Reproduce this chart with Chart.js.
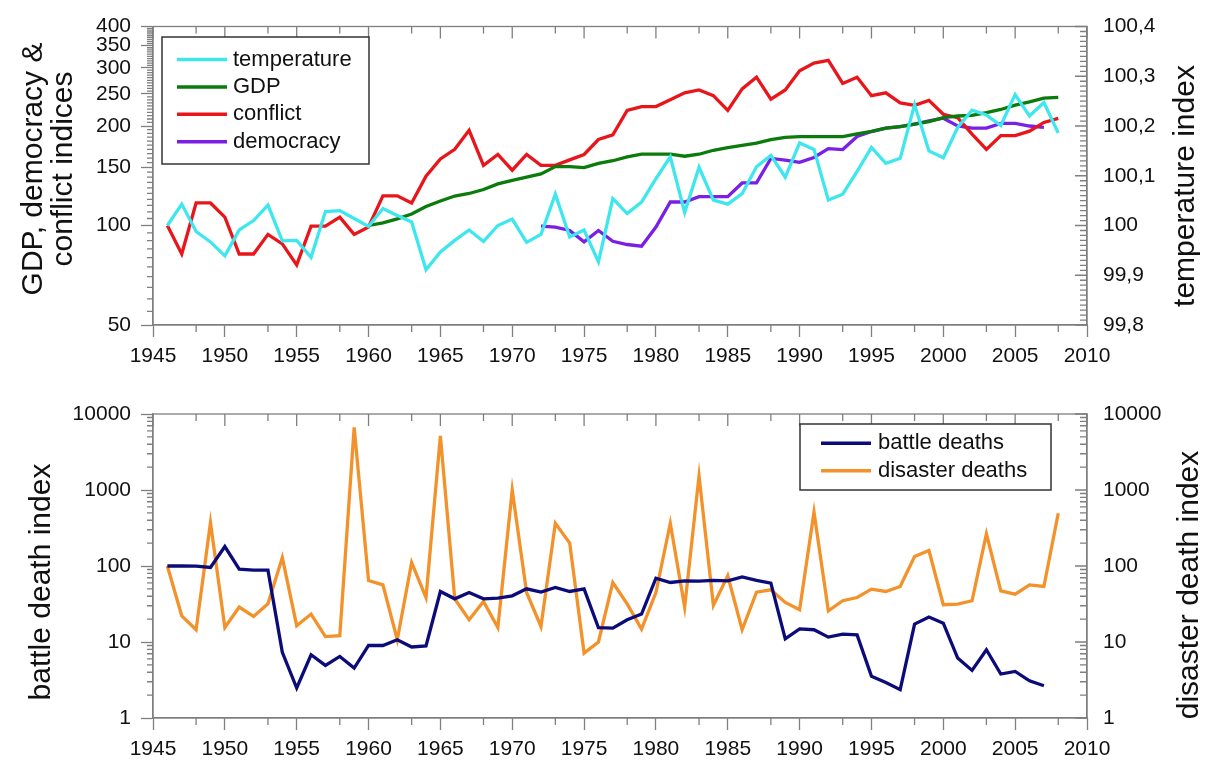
<!DOCTYPE html>
<html>
<head>
<meta charset="utf-8">
<script src="https://cdn.jsdelivr.net/npm/chart.js@4.4.1/dist/chart.umd.min.js"></script>
<style>
html,body{margin:0;padding:0;background:#fff;}
.w{position:absolute;left:0;width:1212px;height:381px;}
</style>
</head>
<body>
<div class="w" style="top:0"><canvas id="c1" width="1212" height="381"></canvas></div>
<div class="w" style="top:381px"><canvas id="c2" width="1212" height="381"></canvas></div>
<script>
// ---------- data ----------
const years = [1946,1947,1948,1949,1950,1951,1952,1953,1954,1955,1956,1957,1958,1959,1960,1961,1962,1963,1964,1965,1966,1967,1968,1969,1970,1971,1972,1973,1974,1975,1976,1977,1978,1979,1980,1981,1982,1983,1984,1985,1986,1987,1988,1989,1990,1991,1992,1993,1994,1995,1996,1997,1998,1999,2000,2001,2002,2003,2004,2005,2006,2007,2008];

const temperature = [100.000,100.043,99.988,99.967,99.939,99.991,100.010,100.041,99.969,99.970,
  99.936,100.028,100.030,100.014,99.998,100.034,100.020,100.007,99.911,99.947,
  99.970,99.991,99.968,100.000,100.013,99.966,99.982,100.063,99.977,99.991,
  99.927,100.054,100.024,100.047,100.094,100.138,100.026,100.117,100.051,100.043,
  100.064,100.118,100.141,100.097,100.166,100.153,100.051,100.063,100.109,100.157,
  100.125,100.135,100.243,100.150,100.136,100.197,100.232,100.222,100.201,100.263,
  100.220,100.247,100.186];

const gdp = [null,null,null,null,null,null,null,null,null,null,
  null,null,null,null,100,101.8,104.7,108.3,114.1,118.6,
  122.8,125,128.5,133.6,137,140,143.3,150.7,150.7,149.7,
  154.2,157,161.3,164.3,164.3,164.3,162,164.3,168.9,172,
  174.7,177.5,182,184.9,185.8,185.8,185.8,185.8,189.2,192.7,
  197.2,199,202.6,206.3,212,214.4,215.4,219.4,224.4,231.2,
  236.6,243,244];

const conflict = [100,82,117,117,106,82,82,94,88,76,
  99.5,99.5,106,94,99,123,123,117,141,159,
  170,194,152,164,147,164,152,152,158,164,
  182,188,223,229,229,240,252,257,247,223,
  259,281,241,257,294,310,316,269,281,247,
  252,235,231,239,217,212,189,170,187,187,
  193,205,211];

const democracy = [null,null,null,null,null,null,null,null,null,null,
  null,null,null,null,null,null,null,null,null,null,
  null,null,null,null,null,null,99.5,98.9,96.6,89.2,
  96.6,89.6,87.6,86.6,98.9,117.8,117.8,122.2,122.2,122.2,
  134.5,134.5,159.5,157.7,155.2,160.6,170.8,169.7,185.9,192.4,
  197.2,199,202.6,207.3,211.1,200.2,197,197,203.6,203.6,
  200,198,null];

const battleDeaths = [100,100.5,99.5,95.6,180,91,88,88,7.3,2.48,
  6.8,4.92,6.46,4.54,9.0,9.0,10.7,8.6,8.9,46.2,
  37,44.8,37,37.9,40.5,50.1,45.3,52.2,46.2,50,
  15.4,15.2,19.6,23.3,69.2,60.7,63.8,63.2,64.5,63.8,
  72,64.5,59.5,11.0,14.9,14.5,11.6,12.7,12.4,3.53,
  2.94,2.36,17.2,21.3,17.7,6.15,4.23,7.9,3.79,4.1,
  3.09,2.66,null];

const disasterDeaths = [100,22.1,14.5,373,15.5,28.8,21.7,31.8,129,16.4,
  23.3,11.8,12.1,6680,64.5,56.5,10.7,111,38.5,5140,
  37,19.6,34.2,15.5,1000,44.8,16,365,200,7.15,
  10,60.7,31.8,14.8,44.8,365,28.8,1531,30.3,74.3,
  14.5,45.3,48.6,33.1,26.5,510,25.7,34.9,38.5,49.6,
  46.2,53.8,133,160,30.9,31.5,34.9,265,47.1,42.6,
  56.5,53.8,495];

// tick labels
const xTickYears = [1945,1950,1955,1960,1965,1970,1975,1980,1985,1990,1995,2000,2005,2010];
const xMinorYears = [1948,1953,1958,1963,1968,1973,1978,1983,1988,1993,1998,2003,2008];
const indexTicks = [50,100,150,200,250,300,350,400];
const temperatureTicks = [99.8,99.9,100,100.1,100.2,100.3,100.4];
const deathTicks = [1,10,100,1000,10000];

// minor tick values (axis decoration)
const indexMinor = [];
for (let v = 55; v < 400; v += 5) if (v % 50 !== 0) indexMinor.push(v);
const temperatureMinor = [];
for (let i = 1; i < 60; i++) if (i % 10 !== 0) temperatureMinor.push(Math.round((99.8 + i * 0.01) * 1000) / 1000);
const deathMinor = [];
for (let d = 1; d < 10000; d *= 10) for (let m = 2; m <= 9; m++) deathMinor.push(m * d);

// ---------- helpers ----------
const pts = arr => years.map((yr, i) => ({x: yr, y: arr[i]}));
const GRAY = '#7f7f7f';
Chart.defaults.font.family = "'Liberation Sans', Arial, sans-serif";
Chart.defaults.color = '#111';

const frameTicks = {
  id: 'frameTicks',
  afterDraw(chart, args, o) {
    const {ctx, chartArea: a, scales} = chart;
    ctx.save();
    ctx.strokeStyle = GRAY;
    ctx.lineWidth = 1.3;
    ctx.strokeRect(a.left, a.top, a.right - a.left, a.bottom - a.top);
    ctx.beginPath();
    const x = scales.x;
    for (const t of x.ticks) {
      const px = x.getPixelForValue(t.value);
      ctx.moveTo(px, a.top); ctx.lineTo(px, a.top + 12);
    }
    for (const v of o.xMinor) {
      const px = x.getPixelForValue(v);
      ctx.moveTo(px, a.top); ctx.lineTo(px, a.top + 7);
      ctx.moveTo(px, a.bottom); ctx.lineTo(px, a.bottom + 7);
    }
    const yl = scales[o.left];
    for (const v of o.leftMinor) {
      const py = yl.getPixelForValue(v);
      ctx.moveTo(a.left, py); ctx.lineTo(a.left - 6, py);
    }
    const yr = scales[o.right];
    for (const t of yr.ticks) {
      const py = yr.getPixelForValue(t.value);
      ctx.moveTo(a.right, py); ctx.lineTo(a.right - 12, py);
    }
    for (const v of o.rightMinor) {
      const py = yr.getPixelForValue(v);
      ctx.moveTo(a.right, py); ctx.lineTo(a.right - 7, py);
    }
    ctx.stroke();
    ctx.restore();
  }
};

const boxLegend = {
  id: 'boxLegend',
  afterDraw(chart, args, o) {
    const ctx = chart.ctx;
    ctx.save();
    ctx.fillStyle = '#fff';
    ctx.fillRect(o.x, o.y, o.w, o.h);
    ctx.strokeStyle = '#333';
    ctx.lineWidth = 1.5;
    ctx.strokeRect(o.x, o.y, o.w, o.h);
    ctx.font = o.font;
    ctx.textBaseline = 'middle';
    ctx.textAlign = 'left';
    chart.data.datasets.forEach((ds, i) => {
      const cy = o.rowY + i * o.rowStep;
      ctx.strokeStyle = ds.borderColor;
      ctx.lineWidth = 3.5;
      ctx.beginPath(); ctx.moveTo(o.sx0, cy); ctx.lineTo(o.sx1, cy); ctx.stroke();
      ctx.fillStyle = '#111';
      ctx.fillText(ds.label, o.tx, cy);
    });
    ctx.restore();
  }
};

const sideTitles = {
  id: 'sideTitles',
  afterDraw(chart, args, o) {
    const ctx = chart.ctx;
    ctx.save();
    ctx.fillStyle = '#111';
    ctx.font = o.font;
    ctx.textAlign = 'center';
    ctx.textBaseline = 'alphabetic';
    for (const t of o.items) {
      ctx.save();
      ctx.translate(t.x, t.y);
      ctx.rotate(-Math.PI / 2);
      ctx.fillText(t.text, 0, 0);
      ctx.restore();
    }
    ctx.restore();
  }
};

const tickFont = {size: 21, lineHeight: 1};
const xScale = {
  type: 'linear', position: 'bottom', min: 1945, max: 2010,
  afterBuildTicks: s => { s.ticks = xTickYears.map(v => ({value: v})); },
  afterFit: s => { s.height = 56; },
  ticks: {autoSkip: false, maxRotation: 0, padding: 9, font: tickFont, color: '#111', callback: v => String(v)},
  grid: {drawOnChartArea: false, tickLength: 12, tickColor: GRAY, tickWidth: 1.3},
  border: {display: true, color: GRAY, width: 1.3}
};
const line = (label, data, color, axis) => ({
  label, data: pts(data), borderColor: color, backgroundColor: color, yAxisID: axis,
  borderWidth: 3.3, pointRadius: 0, tension: 0, fill: false, spanGaps: false
});

// ---------- top chart ----------
new Chart(document.getElementById('c1'), {
  type: 'line',
  data: {
    datasets: [
      line('temperature', temperature, '#3ee6ee', 'yT'),
      line('GDP', gdp, '#0b7b0b', 'y'),
      line('conflict', conflict, '#e8161b', 'y'),
      line('democracy', democracy, '#7a1fe4', 'y')
    ]
  },
  options: {
    responsive: false, animation: false, events: [],
    layout: {padding: {top: 21, left: 0, right: 0, bottom: 0}},
    plugins: {
      legend: {display: false}, tooltip: {enabled: false},
      frameTicks: {xMinor: xMinorYears, left: 'y', leftMinor: indexMinor, right: 'yT', rightMinor: temperatureMinor},
      boxLegend: {x: 162, y: 37, w: 207, h: 127, sx0: 177, sx1: 227, tx: 233, rowY: 59.5, rowStep: 27.4, font: "22px 'Liberation Sans', Arial, sans-serif"},
      sideTitles: {font: "30px 'Liberation Sans', Arial, sans-serif", items: [
        {text: 'GDP, democracy &', x: 42, y: 169},
        {text: 'conflict indices', x: 72, y: 169},
        {text: 'temperature index', x: 1194, y: 186}
      ]}
    },
    scales: {
      x: xScale,
      y: {
        type: 'logarithmic', position: 'left', min: 50, max: 400,
        afterBuildTicks: s => { s.ticks = indexTicks.map(v => ({value: v})); },
        afterFit: s => { s.width = 153; },
        ticks: {padding: 10, font: tickFont, color: '#111', callback: v => String(v)},
        grid: {drawOnChartArea: false, tickLength: 12, tickColor: GRAY, tickWidth: 1.3},
        border: {display: true, color: GRAY, width: 1.3}
      },
      yT: {
        type: 'linear', position: 'right', min: 99.8, max: 100.4,
        afterBuildTicks: s => { s.ticks = temperatureTicks.map(v => ({value: v})); },
        afterFit: s => { s.width = 125; },
        ticks: {padding: 16, font: tickFont, color: '#111', callback: v => String(Number(v.toFixed(1))).replace('.', ',')},
        grid: {display: false, drawTicks: false},
        border: {display: true, color: GRAY, width: 1.3}
      }
    }
  },
  plugins: [frameTicks, boxLegend, sideTitles]
});

// ---------- bottom chart ----------
new Chart(document.getElementById('c2'), {
  type: 'line',
  data: {
    datasets: [
      line('battle deaths', battleDeaths, '#0b0b7a', 'y'),
      line('disaster deaths', disasterDeaths, '#f3922a', 'y2')
    ]
  },
  options: {
    responsive: false, animation: false, events: [],
    layout: {padding: {top: 33, left: 0, right: 0, bottom: 0}},
    plugins: {
      legend: {display: false}, tooltip: {enabled: false},
      frameTicks: {xMinor: xMinorYears, left: 'y', leftMinor: deathMinor, right: 'y2', rightMinor: deathMinor},
      boxLegend: {x: 800, y: 43, w: 251, h: 66, sx0: 821, sx1: 871, tx: 878, rowY: 62.3, rowStep: 27.4, font: "22px 'Liberation Sans', Arial, sans-serif"},
      sideTitles: {font: "30px 'Liberation Sans', Arial, sans-serif", items: [
        {text: 'battle death index', x: 50, y: 201},
        {text: 'disaster death index', x: 1198, y: 204}
      ]}
    },
    scales: {
      x: Object.assign({}, xScale, {afterFit: s => { s.height = 44; }}),
      y: {
        type: 'logarithmic', position: 'left', min: 1, max: 10000,
        afterBuildTicks: s => { s.ticks = deathTicks.map(v => ({value: v})); },
        afterFit: s => { s.width = 153; },
        ticks: {padding: 10, font: tickFont, color: '#111', callback: v => String(v)},
        grid: {drawOnChartArea: false, tickLength: 12, tickColor: GRAY, tickWidth: 1.3},
        border: {display: true, color: GRAY, width: 1.3}
      },
      y2: {
        type: 'logarithmic', position: 'right', min: 1, max: 10000,
        afterBuildTicks: s => { s.ticks = deathTicks.map(v => ({value: v})); },
        afterFit: s => { s.width = 125; },
        ticks: {padding: 16, font: tickFont, color: '#111', callback: v => String(v)},
        grid: {display: false, drawTicks: false},
        border: {display: true, color: GRAY, width: 1.3}
      }
    }
  },
  plugins: [frameTicks, boxLegend, sideTitles]
});
</script>
</body>
</html>
